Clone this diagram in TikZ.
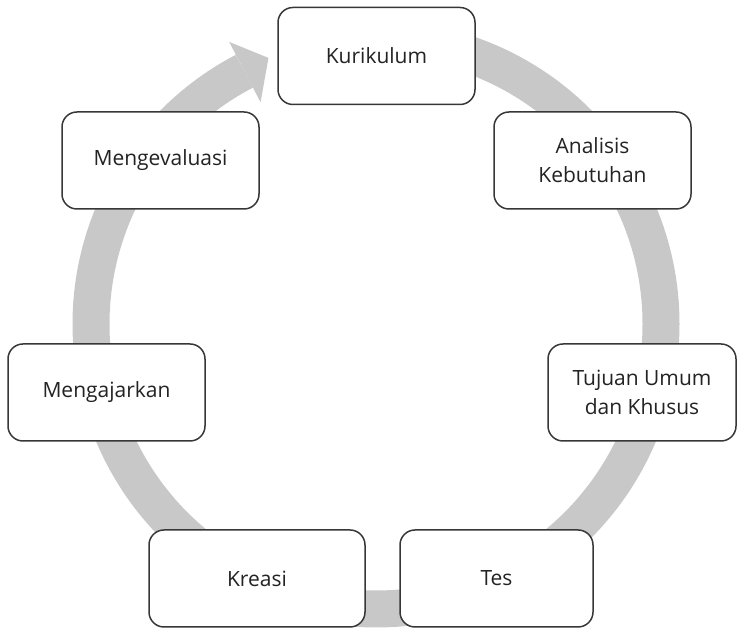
\documentclass[tikz,border=0pt]{standalone}
\usepackage{fontspec}
\setmainfont{Open Sans}
\usepackage{tikz}
\definecolor{ringgray}{RGB}{200,200,200}
\definecolor{boxline}{RGB}{55,55,55}
\definecolor{textgray}{RGB}{35,35,35}

\begin{document}
\begin{tikzpicture}[x=1pt,y=1pt]
\tikzstyle{stage}=[draw=boxline, line width=1.5pt, rounded corners=15pt, fill=white, align=center, text=textgray, font=\fontsize{21}{29}\selectfont, minimum width=197pt, minimum height=97pt, inner sep=0pt]
\useasboundingbox (0,0) rectangle (737,628);
\draw [ringgray, line width=37pt, shift={(376,304)}] (90:285) arc [start angle=90, end angle=-242.5, radius=285];
\fill [ringgray, shift={(376,304)}] (117.5:250) -- (112:287) -- (117.5:318) -- cycle;
\node [stage] (kurikulum) at (376.5,572) {Kurikulum};
\node [stage] (analisis) at (592.5,467.5) {Analisis\\Kebutuhan};
\node [stage, minimum width=188pt] (tujuan) at (642,235.5) {Tujuan Umum\\dan Khusus};
\node [stage, minimum width=193pt] (tes) at (496.5,49.5) {Tes};
\node [stage, minimum width=216pt] (kreasi) at (257,49.5) {Kreasi};
\node [stage] (mengajarkan) at (106.5,235.5) {Mengajarkan};
\node [stage] (mengevaluasi) at (160.5,467.5) {Mengevaluasi};
\end{tikzpicture}
\end{document}
